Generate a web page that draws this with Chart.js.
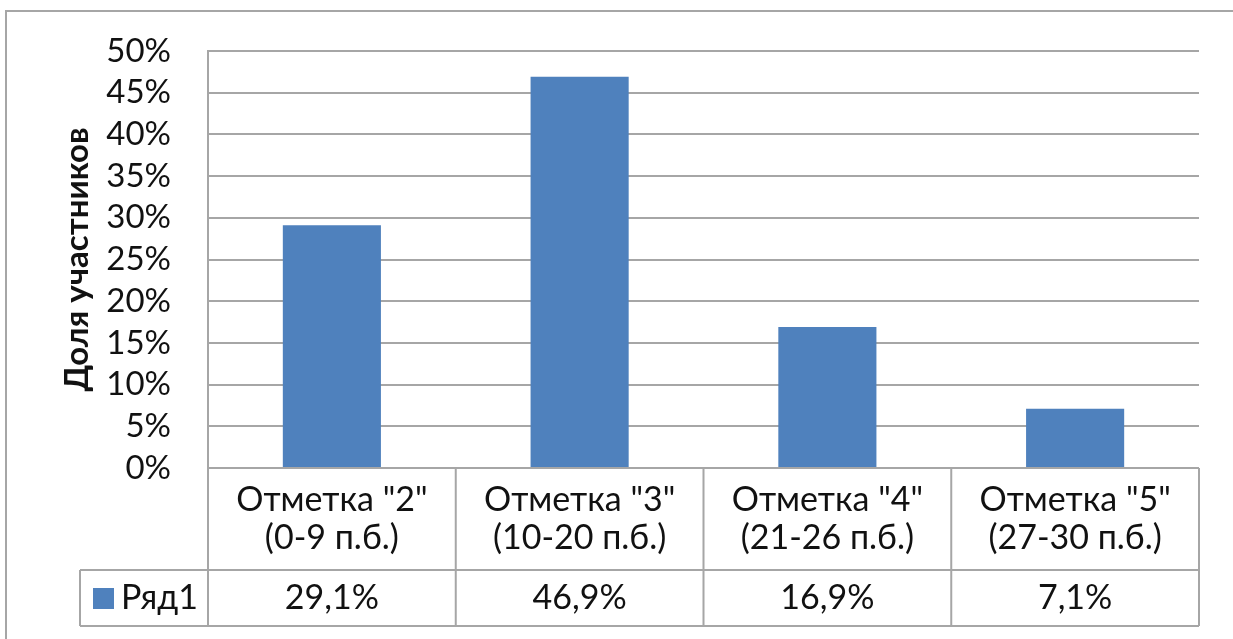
<!DOCTYPE html>
<html>
<head>
<meta charset="utf-8">
<script src="https://cdn.jsdelivr.net/npm/chart.js@4/dist/chart.umd.min.js"></script>
<style>
  body { margin: 0; background: #fff; }
  #wrap { width: 1233px; height: 639px; position: relative; }
</style>
</head>
<body>
<div id="wrap"><canvas id="chart"></canvas></div>
<script>
// Data
const categories = [['Отметка "2"', '(0-9 п.б.)'], ['Отметка "3"', '(10-20 п.б.)'], ['Отметка "4"', '(21-26 п.б.)'], ['Отметка "5"', '(27-30 п.б.)']];
const seriesName = 'Ряд1';
const values = [29.1, 46.9, 16.9, 7.1];
const valueLabels = ['29,1%', '46,9%', '16,9%', '7,1%'];
const yTitle = 'Доля участников';

const barColor = '#4f81bd';
const lineColor = '#a6a6a6';
const textColor = '#111';
const font = 'Lato';

// Excel-style data table under the plot + outer frame
const tablePlugin = {
    id: 'dataTable',
    afterDraw(chart) {
        const ctx = chart.ctx;
        const area = chart.chartArea;
        const colW = (area.right - area.left) / categories.length;
        const row1 = area.bottom + 102;
        const row2 = row1 + 56;
        const legendLeft = 80;

        ctx.save();
        ctx.strokeStyle = lineColor;
        ctx.lineWidth = 2;

        // outer frame
        ctx.strokeRect(6, 11, 1300, 700);

        ctx.beginPath();
        // horizontal lines
        ctx.moveTo(area.left, area.bottom); ctx.lineTo(area.right, area.bottom);
        ctx.moveTo(legendLeft, row1); ctx.lineTo(area.right, row1);
        ctx.moveTo(legendLeft, row2); ctx.lineTo(area.right, row2);
        // vertical lines
        for (let i = 0; i <= categories.length; i++) {
            const x = area.left + i * colW;
            ctx.moveTo(x, area.bottom); ctx.lineTo(x, row2);
        }
        ctx.moveTo(legendLeft, row1); ctx.lineTo(legendLeft, row2);
        ctx.stroke();

        ctx.fillStyle = textColor;
        ctx.font = '34px ' + font;
        ctx.textAlign = 'center';
        ctx.textBaseline = 'middle';
        categories.forEach((lines, i) => {
            const cx = area.left + (i + 0.5) * colW;
            ctx.fillText(lines[0], cx, area.bottom + 32);
            ctx.fillText(lines[1], cx, area.bottom + 70);
            ctx.fillText(valueLabels[i], cx, row1 + 28);
        });

        // legend key
        ctx.fillStyle = barColor;
        ctx.fillRect(93, row1 + 18, 21, 21);
        ctx.fillStyle = textColor;
        ctx.textAlign = 'left';
        ctx.fillText(seriesName, 121, row1 + 28);
        ctx.restore();
    }
};

const ctx = document.getElementById('chart').getContext('2d');
new Chart(ctx, {
    type: 'bar',
    data: {
        labels: categories,
        datasets: [{
            label: seriesName,
            data: values,
            backgroundColor: barColor,
            barPercentage: 0.396,
            categoryPercentage: 1.0,
        }],
    },
    options: {
        responsive: true,
        maintainAspectRatio: false,
        animation: false,
        layout: { padding: { top: 51, right: 34, bottom: 171, left: 0 } },
        plugins: {
            legend: { display: false },
            tooltip: { enabled: false },
        },
        scales: {
            x: { display: false },
            y: {
                min: 0,
                max: 50,
                afterFit: scale => {
                    scale.width = 208;
                    scale.paddingTop = 0;
                    scale.paddingBottom = 0;
                },
                ticks: {
                    stepSize: 5,
                    autoSkip: false,
                    padding: 37,
                    color: textColor,
                    font: { family: font, size: 33, lineHeight: 1 },
                    callback: v => v + '%',
                },
                grid: { color: lineColor, lineWidth: 2, drawTicks: false },
                border: { color: lineColor, width: 2 },
                title: {
                    display: true,
                    text: yTitle,
                    color: textColor,
                    font: { family: font, size: 33, weight: 'bold' },
                    padding: { top: 58, bottom: 0 },
                },
            },
        },
    },
    plugins: [tablePlugin],
});
</script>
</body>
</html>
